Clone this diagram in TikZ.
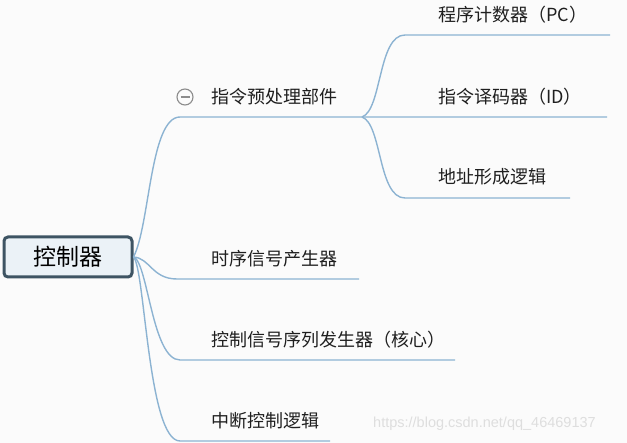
\documentclass[tikz,border=0pt]{standalone}
\usepackage{fontspec}
\setmainfont{Noto Sans CJK SC}
\newfontfamily\wmfont{Liberation Sans}
\begin{document}
\begin{tikzpicture}[x=1pt,y=-1pt,
  branch/.style={draw=linkblue,line width=1.4pt},
  leaf/.style={anchor=west,inner sep=0pt,font=\fontsize{18}{21}\selectfont,text=black!88},
  rootbox/.style={draw=rootdark,line width=3pt,rounded corners=4pt,fill=rootfill,minimum width=128pt,minimum height=40pt,font=\fontsize{23}{26}\selectfont,inner sep=0pt}
]
\definecolor{linkblue}{HTML}{8CB3D2}
\definecolor{rootdark}{HTML}{3E5463}
\definecolor{rootfill}{HTML}{EBF2F7}
\definecolor{bgc}{HTML}{FBFBFB}
\fill[bgc] (0,0) rectangle (627,443);
\useasboundingbox (0,0) rectangle (627,443);

% root
\node[rootbox] (root) at (68,257) {控制器};

% coordinates of underlines
\coordinate (z1) at (180,117);
\coordinate (zb) at (362,117);
\coordinate (z1e) at (607,117);
\coordinate (pc1) at (405,35);
\coordinate (pc2) at (610,35);
\coordinate (ad1) at (405,198);
\coordinate (ad2) at (570,198);
\coordinate (t1) at (177,279);
\coordinate (t2) at (359,279);
\coordinate (c1) at (180,360);
\coordinate (c2) at (455,360);
\coordinate (i1) at (180,441);
\coordinate (i2) at (330,441);

% branches from root
\draw[branch] (root.east) .. controls (150,225) and (150,117) .. (z1) -- (zb) -- (z1e);
\draw[branch] (root.east) .. controls (150,258) and (152,279) .. (t1) -- (t2);
\draw[branch] (root.east) .. controls (148,262) and (152,360) .. (c1) -- (c2);
\draw[branch] (root.east) .. controls (145,268) and (148,441) .. (i1) -- (i2);

% sub branches
\draw[branch] (zb) .. controls (382,110) and (378,35) .. (pc1) -- (pc2);
\draw[branch] (zb) .. controls (382,124) and (378,198) .. (ad1) -- (ad2);

% collapse marker
\node[circle,draw=gray!90,line width=1.1pt,minimum size=16pt,inner sep=0pt] (minus) at (185,97) {};
\draw[gray!90,line width=1.2pt] ([xshift=-4.5pt]minus.center) -- ([xshift=4.5pt]minus.center);

% labels
\node[leaf] (n1) at (211,97) {指令预处理部件};
\node[leaf] (n11) at (438,15) {程序计数器（PC）};
\node[leaf] (n12) at (438,97) {指令译码器（ID）};
\node[leaf] (n13) at (438,177) {地址形成逻辑};
\node[leaf] (n2) at (211,259) {时序信号产生器};
\node[leaf] (n3) at (211,340) {控制信号序列发生器（核心）};
\node[leaf] (n4) at (211,421) {中断控制逻辑};

% watermark
\node[anchor=west,inner sep=0pt,font=\wmfont\fontsize{14.5}{16}\selectfont,text=black!13] (wm) at (373,424) {https://blog.csdn.net/qq\_46469137};
\end{tikzpicture}
\end{document}
